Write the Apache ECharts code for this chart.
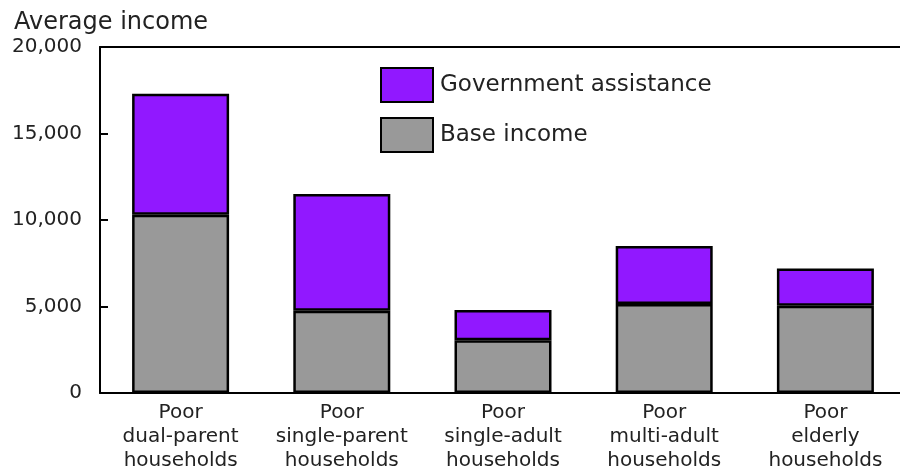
<!DOCTYPE html>
<html>
<head>
<meta charset="utf-8">
<script src="https://cdn.jsdelivr.net/npm/echarts@6/dist/echarts.min.js"></script>
<style>
  html, body { margin: 0; padding: 0; background: #fff; }
  #chart { width: 900px; height: 470px; }
</style>
</head>
<body>
<div id="chart"></div>
<script>
var categories = ['Poor\ndual-parent\nhouseholds', 'Poor\nsingle-parent\nhouseholds', 'Poor\nsingle-adult\nhouseholds', 'Poor\nmulti-adult\nhouseholds', 'Poor\nelderly\nhouseholds'];
var baseIncome = [10300, 4750, 3050, 5150, 5050];
var govAssistance = [7000, 6750, 1750, 3350, 2150];
var yTicks = [0, 5000, 10000, 15000, 20000];

var font = 'DejaVu Sans';
var chart = echarts.init(document.getElementById('chart'));

var option = {
    backgroundColor: '#fff',
    animation: false,
    textStyle: { fontFamily: font, color: '#222' },
    title: {
        text: 'Average income',
        left: 9,
        top: 6,
        textStyle: { fontFamily: font, fontSize: 24, fontWeight: 'normal', color: '#222' }
    },
    legend: {
        orient: 'vertical',
        left: 375,
        top: 62,
        icon: 'rect',
        itemWidth: 52,
        itemHeight: 34,
        itemGap: 14,
        data: ['Government assistance', 'Base income'],
        textStyle: { fontFamily: font, fontSize: 23, color: '#222', padding: [0, 0, 0, 2] }
    },
    grid: { left: 100, top: 47, width: 806, bottom: 77, containLabel: false, outerBoundsMode: 'none' },
    xAxis: [{
        type: 'category',
        data: categories,
        axisLine: { lineStyle: { color: '#000', width: 2 } },
        axisTick: { show: false },
        axisLabel: { fontFamily: font, fontSize: 20, color: '#222', lineHeight: 24, margin: 8, interval: 0 }
    }, {
        type: 'category',
        position: 'top',
        data: categories,
        axisLine: { lineStyle: { color: '#000', width: 2 } },
        axisTick: { show: false },
        axisLabel: { show: false }
    }],
    yAxis: {
        type: 'value',
        min: yTicks[0],
        max: yTicks[yTicks.length - 1],
        interval: yTicks[1] - yTicks[0],
        axisLine: { show: true, lineStyle: { color: '#000', width: 2 } },
        axisTick: { show: true, inside: true, length: 8, lineStyle: { color: '#000', width: 2 } },
        splitLine: { show: false },
        axisLabel: {
            fontFamily: font, fontSize: 20, color: '#222', margin: 18,
            formatter: function (v) { return v.toLocaleString('en-US'); }
        }
    },
    series: [{
        name: 'Base income',
        type: 'bar',
        stack: 'total',
        barWidth: 97,
        data: baseIncome,
        itemStyle: { color: '#999999', borderColor: '#000', borderWidth: 2.5 }
    }, {
        name: 'Government assistance',
        type: 'bar',
        stack: 'total',
        barWidth: 97,
        data: govAssistance,
        itemStyle: { color: '#9118ff', borderColor: '#000', borderWidth: 2.5 }
    }]
};

chart.setOption(option);
</script>
</body>
</html>
